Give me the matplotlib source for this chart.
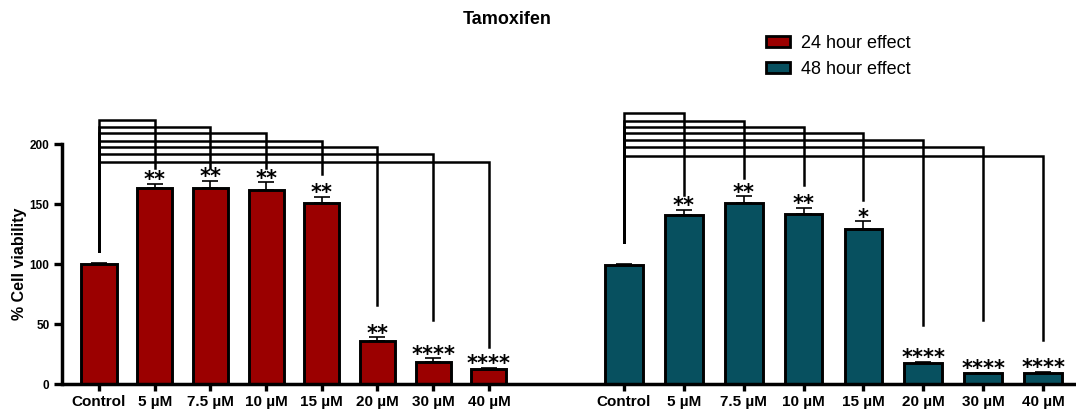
import matplotlib.pyplot as plt
from matplotlib.patches import Patch
from matplotlib.lines import Line2D
import numpy as np

plt.rcParams['font.family'] = ['Liberation Sans', 'DejaVu Sans']

# data
doses = ['Control', '5 µM', '7.5 µM', '10 µM', '15 µM', '20 µM', '30 µM', '40 µM']
viab_24h = [100, 163, 163.5, 162, 151, 36, 18.5, 12.8]
err_24h = [1, 4, 6, 6, 5, 3, 3, 0.5]
stars_24h = ['', '**', '**', '**', '**', '**', '****', '****']
viab_48h = [99, 141, 150.5, 142, 129, 17.5, 9, 9.5]
err_48h = [0.8, 4, 6, 5, 6.5, 1, 0.5, 0.5]
stars_48h = ['', '**', '**', '**', '*', '****', '****', '****']

# comparison brackets (control vs each dose): level, bottom of left leg, bottom of right leg
brk_24h = [220.5, 214, 209, 203, 198, 192, 185]
brk_left_24h = 111
brk_right_24h = [180, 180, 180, 175, 66, 53, 31]
brk_48h = [226, 219, 214.5, 209, 203.5, 198, 190]
brk_left_48h = 118.5
brk_right_48h = [157.5, 171.5, 166, 153, 49, 53, 36.5]

red = '#9b0000'
teal = '#07505f'

fig = plt.figure(figsize=(10.76, 4.13), dpi=100)
ax1 = fig.add_axes([62 / 1076, 0.0702, (550 - 62) / 1076, 0.668])
ax2 = fig.add_axes([550 / 1076, 0.0702, (1076 - 550) / 1076, 0.668])
ax1.patch.set_visible(False)
ax2.patch.set_visible(False)


def draw_panel(ax, vals, errs, stars, color, brk, left_end, right_ends):
    x = np.arange(len(doses))
    ax.bar(x, vals, 0.63, color=color, edgecolor='black', linewidth=2.1, zorder=2)
    ax.errorbar(x, vals, yerr=[np.zeros(len(errs)), errs], fmt='none', ecolor='black',
                elinewidth=1.2, capsize=6, capthick=1.2, zorder=1)
    for xi, v, e, s in zip(x, vals, errs, stars):
        if s:
            ax.text(xi, v + e + 3, s, ha='center', va='center', fontsize=15,
                    fontweight='bold', family='DejaVu Sans')
    for i, (lvl, rend) in enumerate(zip(brk, right_ends)):
        ax.plot([0, 0, i + 1, i + 1], [left_end, lvl, lvl, rend], color='black',
                lw=1.8, solid_joinstyle='miter', clip_on=False, zorder=3)
    ax.set_ylim(0, 230)
    ax.set_xticks(x)
    ax.set_xticklabels(doses, fontsize=11, fontweight='bold')
    ax.tick_params(axis='x', length=5, width=2.4, pad=3)
    for side in ['top', 'right', 'bottom']:
        ax.spines[side].set_visible(False)
    ax.spines['left'].set_linewidth(2.5)


draw_panel(ax1, viab_24h, err_24h, stars_24h, red, brk_24h, brk_left_24h, brk_right_24h)
draw_panel(ax2, viab_48h, err_48h, stars_48h, teal, brk_48h, brk_left_48h, brk_right_48h)

ax1.set_xlim(-0.664, (550 - 99) / 55.7)
ax2.set_xlim(-1.235, 7.55)

# one continuous x axis line under both groups
fig.add_artist(Line2D([62 / 1076, 1.0], [0.0702, 0.0702], transform=fig.transFigure,
                      color='black', lw=2.5, solid_capstyle='butt'))

ax1.spines['left'].set_bounds(0, 200)
ax1.set_yticks([0, 50, 100, 150, 200])
ax1.set_yticklabels(['0', '50', '100', '150', '200'], fontsize=8.5, fontweight='bold')
ax1.tick_params(axis='y', length=6, width=2.4, pad=3)
ax1.set_ylabel('% Cell viability', fontsize=11.5, fontweight='bold')
ax1.yaxis.set_label_coords(-0.072, 100 / 230)

ax2.spines['left'].set_visible(False)
ax2.set_yticks([])

fig.text(507 / 1076, 1 - 20 / 413, 'Tamoxifen', ha='center', va='center',
         fontsize=13, fontweight='bold')

handles = [Patch(facecolor=red, edgecolor='black', linewidth=2, label='24 hour effect'),
           Patch(facecolor=teal, edgecolor='black', linewidth=2, label='48 hour effect')]
fig.legend(handles=handles, loc='upper left', bbox_to_anchor=(750 / 1076, 1 - 19 / 413),
           frameon=False, fontsize=13, handlelength=1.3, handleheight=0.55,
           handletextpad=0.6, labelspacing=0.5)

fig.savefig('out.png', dpi=100)
